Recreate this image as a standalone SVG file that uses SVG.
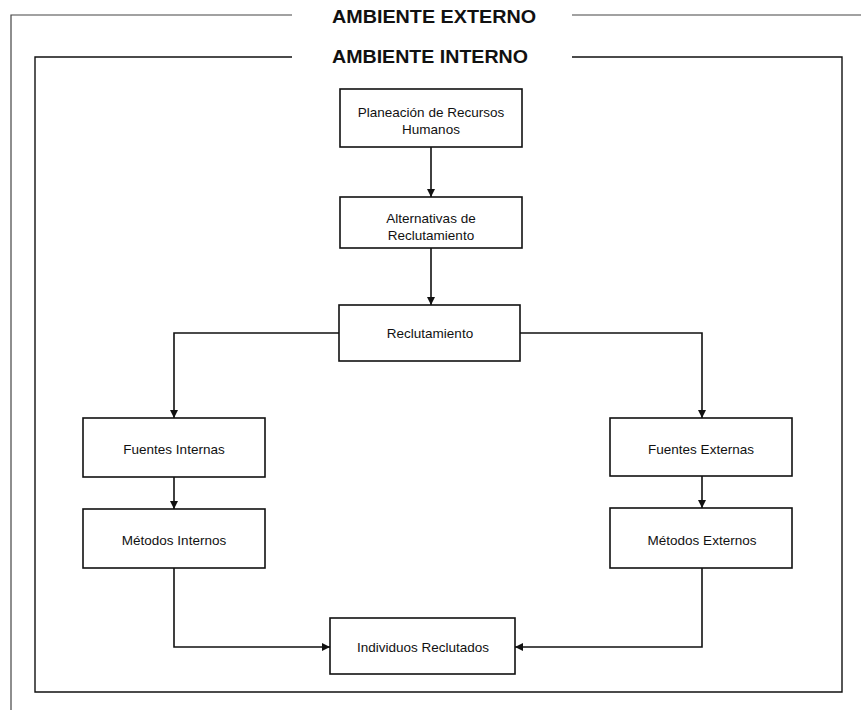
<svg xmlns="http://www.w3.org/2000/svg" width="861" height="710" viewBox="0 0 861 710">
<style>
.box{fill:#fff;stroke:#111;stroke-width:1.6}
.frame{fill:none;stroke:#111;stroke-width:1.4}
.outer{fill:none;stroke:#444;stroke-width:1.2}
.conn{fill:none;stroke:#111;stroke-width:1.6}
.lbl{font-family:"Liberation Sans",Arial,sans-serif;font-size:13.5px;fill:#111;text-anchor:middle;dominant-baseline:central}
.title{font-family:"Liberation Sans",Arial,sans-serif;font-size:18.5px;font-weight:bold;fill:#111;text-anchor:middle;dominant-baseline:central}
</style>
<defs>
<marker id="arr" viewBox="0 0 10 10" refX="10" refY="5" markerWidth="8" markerHeight="8" markerUnits="userSpaceOnUse" orient="auto">
<path d="M0,0 L10,5 L0,10 z" fill="#111"/>
</marker>
</defs>
<rect width="861" height="710" fill="#fff"/>
<g id="ambiente-externo">
<path class="outer" d="M292,15 H11 V710 M572,15 H861"/>
<text class="title" x="434" y="16" textLength="204" lengthAdjust="spacingAndGlyphs">AMBIENTE EXTERNO</text>
</g>
<g id="ambiente-interno">
<path class="frame" d="M292,57 H35 V692 H842 V57 H572"/>
<text class="title" x="430" y="56" textLength="196" lengthAdjust="spacingAndGlyphs">AMBIENTE INTERNO</text>
</g>
<g id="connectors">
<path class="conn" d="M431,147 V197" marker-end="url(#arr)"/>
<path class="conn" d="M431,248 V305" marker-end="url(#arr)"/>
<path class="conn" d="M339,333 H174 V418" marker-end="url(#arr)"/>
<path class="conn" d="M520,333 H702 V418" marker-end="url(#arr)"/>
<path class="conn" d="M174,477 V509" marker-end="url(#arr)"/>
<path class="conn" d="M702,476 V508" marker-end="url(#arr)"/>
<path class="conn" d="M174,568 V647 H330" marker-end="url(#arr)"/>
<path class="conn" d="M702,568 V647 H515" marker-end="url(#arr)"/>
</g>
<g id="planeacion">
<rect class="box" x="340" y="89" width="182" height="58"/>
<text class="lbl" x="431" y="112">Planeación de Recursos</text>
<text class="lbl" x="431" y="129">Humanos</text>
</g>
<g id="alternativas">
<rect class="box" x="340" y="197" width="182" height="51"/>
<text class="lbl" x="431" y="218">Alternativas de</text>
<text class="lbl" x="431" y="235">Reclutamiento</text>
</g>
<g id="reclutamiento">
<rect class="box" x="339" y="305" width="181" height="56"/>
<text class="lbl" x="430" y="333">Reclutamiento</text>
</g>
<g id="fuentes-internas">
<rect class="box" x="83" y="418" width="182" height="59"/>
<text class="lbl" x="174" y="449">Fuentes Internas</text>
</g>
<g id="metodos-internos">
<rect class="box" x="83" y="509" width="182" height="59"/>
<text class="lbl" x="174" y="540">Métodos Internos</text>
</g>
<g id="fuentes-externas">
<rect class="box" x="610" y="418" width="182" height="58"/>
<text class="lbl" x="701" y="449">Fuentes Externas</text>
</g>
<g id="metodos-externos">
<rect class="box" x="610" y="508" width="182" height="60"/>
<text class="lbl" x="702" y="540">Métodos Externos</text>
</g>
<g id="individuos">
<rect class="box" x="330" y="618" width="185" height="56"/>
<text class="lbl" x="423" y="647">Individuos Reclutados</text>
</g>
</svg>
